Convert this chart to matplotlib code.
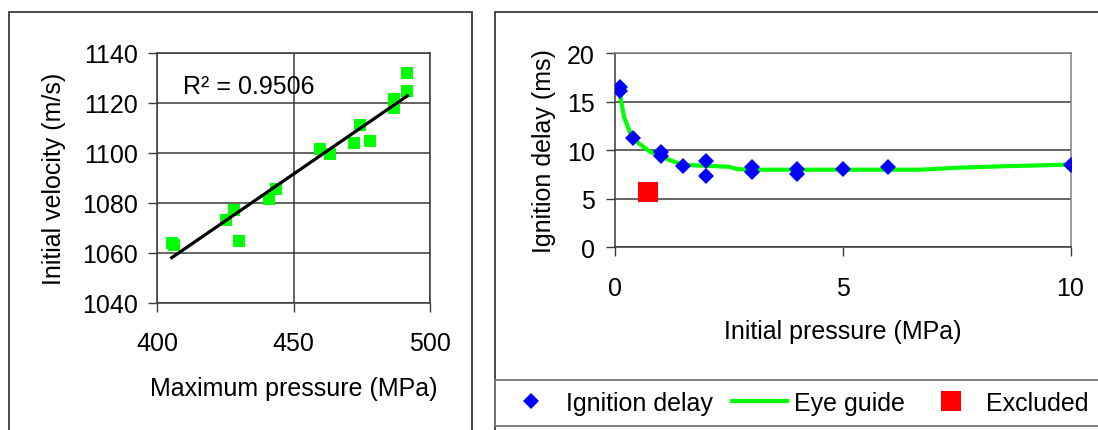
import numpy as np
import matplotlib
matplotlib.use("Agg")
from matplotlib import pyplot as plt
from matplotlib.patches import Rectangle

plt.rcParams['font.family'] = ['Liberation Sans', 'DejaVu Sans']
plt.rcParams['font.size'] = 18

# left panel: maximum pressure vs initial velocity
max_pressure = [405.4, 406.2, 425.2, 428.2, 430.2, 441.1, 443.5, 459.7,
                463.4, 472.2, 474.4, 478.0, 486.8, 486.9, 491.7, 491.7]
init_velocity = [1064.2, 1063.4, 1073.2, 1077.1, 1065.0, 1081.7, 1085.6, 1101.6,
                 1099.6, 1104.2, 1111.2, 1105.0, 1121.6, 1118.0, 1132.2, 1125.0]
r2_text = "R\u00b2 = 0.9506"

# right panel: initial pressure vs ignition delay
init_pressure = [0.1, 0.1, 0.4, 1.0, 1.0, 1.5, 2.0, 2.0, 3.0, 3.0, 4.0, 4.0, 5.0, 6.0, 10.0]
ign_delay = [16.5, 16.1, 11.3, 9.8, 9.4, 8.4, 8.9, 7.4, 8.25, 7.75, 8.1, 7.6, 8.05, 8.25, 8.5]

guide_x = [0.1, 0.2, 0.35, 0.5, 0.75, 1.0, 1.25, 1.5, 2.0, 2.5, 2.7, 3.0, 4.0, 5.0, 6.0, 6.7, 7.5, 8.5, 9.8, 10.0]
guide_y = [16.0, 13.4, 11.6, 10.8, 9.9, 9.4, 8.9, 8.5, 8.4, 8.3, 8.05, 8.0, 8.0, 8.0, 8.0, 8.0, 8.2, 8.35, 8.5, 8.6]

excluded_x = [0.73]
excluded_y = [5.7]

W, H = 1098, 431
fig = plt.figure(figsize=(W / 100, H / 100), dpi=100)

def fr(x0, y0, x1, y1):
    # pixel box -> figure fraction rect
    return [x0 / W, 1 - y1 / H, (x1 - x0) / W, (y1 - y0) / H]

grid_c = '#3a3a3a'
frame_c = '#3c3c3c'

# outer frames
fig.patches.append(Rectangle((9 / W, -0.1), (472 - 9) / W, 1.1 - 12.5 / H, transform=fig.transFigure,
                             fill=False, ec=frame_c, lw=1.3))
fig.patches.append(Rectangle((495 / W, -0.1), 0.6, 1.1 - 12.5 / H, transform=fig.transFigure,
                             fill=False, ec=frame_c, lw=1.3))
fig.patches.append(Rectangle((495 / W, 1 - 427 / H), 0.6, (427 - 380.5) / H, transform=fig.transFigure,
                             fill=False, ec='#777777', lw=1.3))

# ---- left chart
ax1 = fig.add_axes(fr(157, 54, 430, 304))
ax1.plot(max_pressure, init_velocity, 's', color='#00ff00', ms=8, mew=0, zorder=3)
coef = np.polyfit(max_pressure, init_velocity, 1)
xs = np.array([min(max_pressure), max(max_pressure)])
ax1.plot(xs, np.polyval(coef, xs), color='black', lw=2.3, zorder=4)
ax1.text(0.095, 0.87, r2_text, transform=ax1.transAxes, va='center', ha='left')
ax1.set_xlim(400, 500)
ax1.set_ylim(1040, 1140)
ax1.set_xticks([400, 450, 500])
ax1.set_yticks(np.arange(1040, 1141, 20))
ax1.grid(True, color=grid_c, lw=1.1)
ax1.set_axisbelow(True)
ax1.tick_params(direction='out', length=6.5, width=1, color=grid_c)
ax1.tick_params(axis='y', pad=7)
ax1.tick_params(axis='x', pad=14)
for s in ax1.spines.values():
    s.set_color(grid_c)
    s.set_linewidth(1.1)
ax1.set_xlabel("Maximum pressure (MPa)", labelpad=15)
ax1.set_ylabel("Initial velocity (m/s)", labelpad=12)

# ---- right chart
ax2 = fig.add_axes(fr(615, 54.3, 1070.5, 248.3))
ax2.plot(guide_x, guide_y, color='#00ff00', lw=3, zorder=2, label="Eye guide")
ax2.plot(init_pressure, ign_delay, 'D', color='#0000ff', ms=8.5, mew=0, zorder=3, label="Ignition delay")
ax2.plot(excluded_x, excluded_y, 's', color='#ff0000', ms=14, mew=0, zorder=3, label="Excluded")
ax2.set_xlim(0, 10)
ax2.set_ylim(0, 20)
ax2.set_xticks([0, 5, 10])
ax2.set_yticks([0, 5, 10, 15, 20])
ax2.yaxis.grid(True, color=grid_c, lw=1.1)
ax2.set_axisbelow(True)
ax2.tick_params(direction='out', length=6.5, width=1, color=grid_c)
ax2.tick_params(axis='y', pad=8)
ax2.tick_params(axis='x', pad=14)
for s in ['left', 'bottom']:
    ax2.spines[s].set_color(grid_c)
    ax2.spines[s].set_linewidth(1.1)
for s in ['top', 'right']:
    ax2.spines[s].set_color('#808080')
    ax2.spines[s].set_linewidth(1.1)
ax2.set_xlabel("Initial pressure (MPa)", labelpad=14)
ax2.set_ylabel("Ignition delay (ms)", labelpad=8)

h, l = ax2.get_legend_handles_labels()
order = [1, 0, 2]
leg = fig.legend([h[i] for i in order], [l[i] for i in order], ncol=3, frameon=False,
                 loc='center left', bbox_to_anchor=(503.5 / W, 1 - 404 / H), borderpad=0,
                 handlelength=2.2, handletextpad=0.3, columnspacing=0.75,
                 borderaxespad=0)

fig.savefig("out.png", dpi=100)
